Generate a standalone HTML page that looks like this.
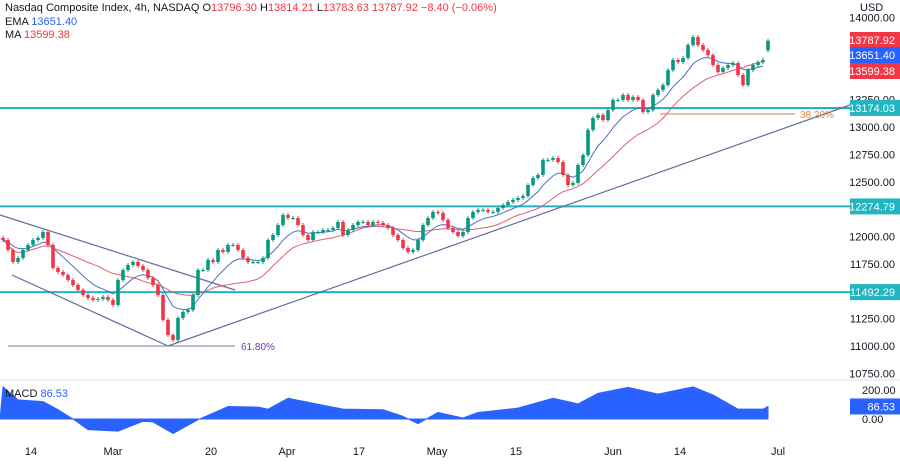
<!DOCTYPE html>
<html><head><meta charset="utf-8"><style>
body{margin:0;background:#fff;font-family:"Liberation Sans",sans-serif}
svg text{font-family:"Liberation Sans",sans-serif}
</style></head><body>
<svg id="c" width="900" height="460" xmlns="http://www.w3.org/2000/svg"></svg>
<script>
const closes=[11968,11877,11767,11804,11877,11923,11968,11987,12041,11923,11713,11676,11649,11603,11557,11512,11466,11439,11421,11430,11448,11421,11375,11603,11694,11740,11767,11731,11694,11621,11557,11466,11238,11101,11055,11256,11311,11329,11466,11694,11694,11786,11767,11877,11859,11923,11923,11877,11804,11767,11767,11767,11804,11968,12014,12105,12197,12169,12169,12105,12014,11968,12041,12041,12060,12060,12078,12133,12014,12060,12105,12133,12133,12105,12133,12124,12105,12078,12014,11968,11895,11859,11877,11968,12105,12169,12224,12215,12151,12078,12041,12005,12041,12169,12224,12242,12242,12224,12224,12260,12288,12315,12334,12352,12370,12470,12534,12562,12699,12699,12717,12680,12562,12470,12489,12653,12744,12973,13082,13110,13064,13155,13247,13247,13292,13247,13274,13247,13137,13155,13292,13338,13383,13520,13612,13593,13630,13749,13822,13749,13703,13657,13566,13502,13539,13566,13584,13475,13383,13520,13566,13593,13612,13788];
const lastOpen=13700;
const macdIdx=[0,3,8,11,14,17,23,28,30,34,39,45,51,53,57,62,68,76,80,83,87,92,95,103,110,115,119,125,131,138,142,147,152,153];
const macdVal=[222,132,120,64,0,-73,-84,-16,-20,-100,-5,86,82,68,143,109,68,64,18,-32,45,7,45,75,143,104,177,218,172,222,166,68,68,86.53];
const priceTicks=[14000,13750,13500,13250,13000,12750,12500,12250,12000,11750,11500,11250,11000,10750];
const hLevels=[13174.03,12274.79,11492.29];
const dateLabels=["14","Mar","20","Apr","17","May","15","Jun","14","Jul"];
const dateIdx=[5.6,22,41.6,56.8,71.2,86.8,102.6,122,135.4,155];

const S=document.getElementById('c');const NS='http://www.w3.org/2000/svg';
function el(t,a,p){const e=document.createElementNS(NS,t);for(const k in a)e.setAttribute(k,a[k]);(p||S).appendChild(e);return e;}
const yP=p=>127-(p-13000)*0.1095;
const xI=i=>3+i*5;
const yM=v=>419-v*0.145;
for(const t of priceTicks){const y=yP(t);if(y<5||y>380)continue;
 const e=el('text',{x:895,y:y+4,'font-size':11,fill:'#131722','text-anchor':'end'});e.textContent=t.toFixed(2);
 
 }
let u=el('text',{x:860,y:11,'font-size':11,fill:'#131722'});u.textContent='USD';

el('line',{x1:0,y1:380,x2:900,y2:380,stroke:'#e0e3eb'});
hLevels.forEach(l=>{const y=yP(l);
 const ln=el('line',{x1:0,y1:y,x2:850,y2:y,stroke:'#22b5c0','stroke-width':2});
 
 const r=el('rect',{x:850,y:y-8,width:50,height:16,fill:'#22b5c0'});
 
 const t=el('text',{x:895,y:y+4,'font-size':11,fill:'#fff','text-anchor':'end'});t.textContent=l.toFixed(2);
 });
const tl=[[0,215,235,290],[12,275,xI(33),yP(11000)],[xI(33),yP(11000),850,105]];
tl.forEach(a=>{const l=el('line',{x1:a[0],y1:a[1],x2:a[2],y2:a[3],stroke:'#5b6f9e','stroke-width':1.2});
 });
let f=el('line',{x1:8,y1:yP(11000),x2:235,y2:yP(11000),stroke:'#7b7b9a'});
let ft=el('text',{x:241,y:yP(11000)+4,'font-size':10,fill:'#673ab7'});ft.textContent='61.80%';
let f2=el('line',{x1:660,y1:114,x2:795,y2:114,stroke:'#c08a50'});
let ft2=el('text',{x:800,y:118,'font-size':10,fill:'#e08a30'});ft2.textContent='38.20%';
let ema=[],ma=[],e=closes[0];
closes.forEach((c,i)=>{e=i?e+(c-e)*0.2:c;ema.push(e);const s=closes.slice(Math.max(0,i-19),i+1);ma.push(s.reduce((a,b)=>a+b,0)/s.length);});
let pm=el('polyline',{points:ma.slice(0,-1).map((v,i)=>xI(i)+','+yP(v)).join(' '),fill:'none',stroke:'#e06070','stroke-width':1});

let pe=el('polyline',{points:ema.slice(0,-1).map((v,i)=>xI(i)+','+yP(v)).join(' '),fill:'none',stroke:'#4a6fc8','stroke-width':1});

closes.forEach((c,i)=>{const o=i==closes.length-1?lastOpen:(i?closes[i-1]:c+20);const up=c>=o;const col=up?'#089981':'#f23645';
 const hi=Math.max(o,c)+18,lo=Math.min(o,c)-18;
 const w=el('line',{x1:xI(i),y1:yP(hi),x2:xI(i),y2:yP(lo),stroke:col});
 
 const yt=yP(Math.max(o,c)),yb=yP(Math.min(o,c));
 const b=el('rect',{x:xI(i)-1.8,y:yt,width:3.6,height:Math.max(1,yb-yt),fill:col});
 });
[[13787.92,'#f23645',40],[13651.40,'#2962ff',55],[13599.38,'#f23645',71]].forEach(a=>{
 const y=a[2];
 const r=el('rect',{x:850,y:y-8,width:50,height:16,fill:a[1]});
 const t=el('text',{x:895,y:y+4,'font-size':11,fill:'#fff','text-anchor':'end'});t.textContent=a[0].toFixed(2);
 });
let t1=el('text',{x:5,y:11,'font-size':11,fill:'#131722'});t1.innerHTML='Nasdaq Composite Index, 4h, NASDAQ  O<tspan fill="#f23645">13796.30</tspan>  H<tspan fill="#f23645">13814.21</tspan>  L<tspan fill="#f23645">13783.63</tspan>  <tspan fill="#f23645">13787.92 −8.40 (−0.06%)</tspan>';

let t2=el('text',{x:5,y:25,'font-size':11,fill:'#131722'});t2.innerHTML='EMA  <tspan fill="#2962ff">13651.40</tspan>';

let t3=el('text',{x:5,y:38,'font-size':11,fill:'#131722'});t3.innerHTML='MA  <tspan fill="#f23645">13599.38</tspan>';

let pts=[xI(0)-3+','+yM(0)];macdIdx.forEach((ix,k)=>pts.push(xI(ix)+','+yM(macdVal[k])));pts.push(xI(macdIdx[macdIdx.length-1])+','+yM(0));
let ma2=el('polygon',{points:pts.join(' '),fill:'#2962ff','stroke':'#2962ff','stroke-linejoin':'round'});
let mt=el('text',{x:5,y:397,'font-size':11,fill:'#131722'});mt.innerHTML='MACD  <tspan fill="#2962ff">86.53</tspan>';

[[200,'200.00'],[0,'0.00']].forEach(a=>{const t=el('text',{x:862,y:yM(a[0])+4,'font-size':11,fill:'#131722'});t.textContent=a[1];
 });
let mr=el('rect',{x:850,y:yM(86.53)-8,width:50,height:16,fill:'#2962ff'});
let mrt=el('text',{x:895,y:yM(86.53)+4,'font-size':11,fill:'#fff','text-anchor':'end'});mrt.textContent='86.53';
dateLabels.forEach((d,k)=>{const t=el('text',{x:xI(dateIdx[k]),y:455,'font-size':11,fill:'#131722','text-anchor':'middle'});t.textContent=d;
 });
</script>
</body></html>
